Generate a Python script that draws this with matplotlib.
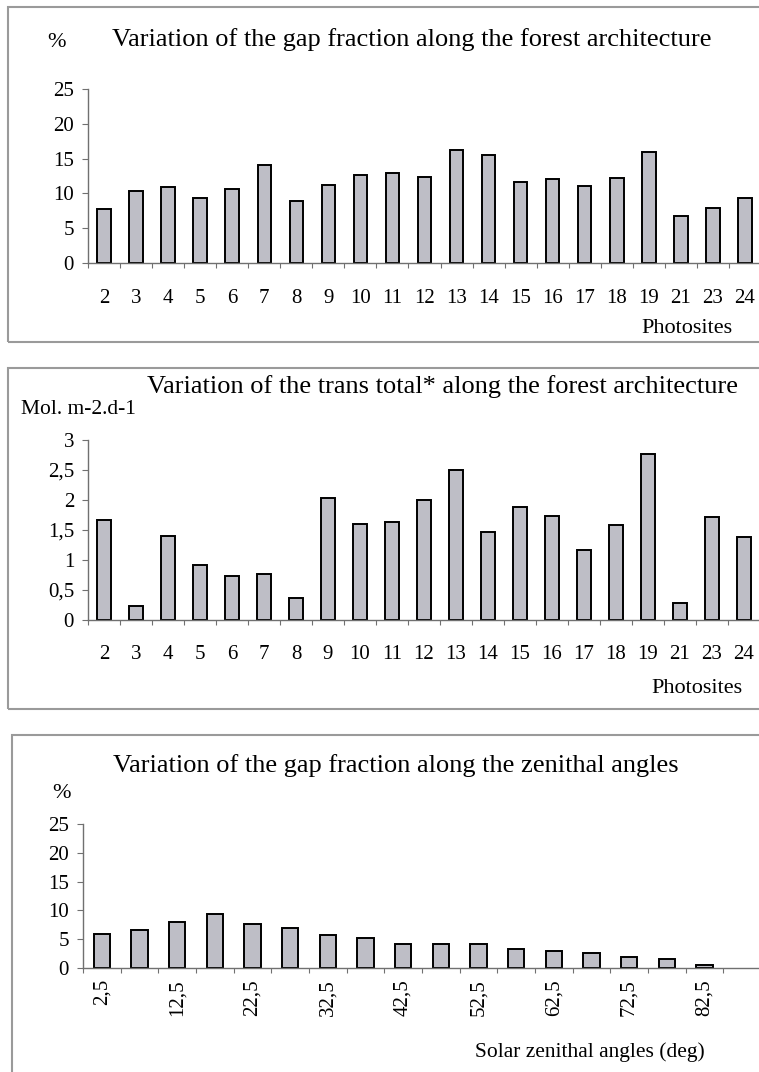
"""
Gap fraction and transmitted radiation bar charts (three framed panels).
"""

import numpy as np
import matplotlib.pyplot as plt
from matplotlib.patches import Rectangle

plt.rcParams['font.family'] = ['Liberation Serif', 'DejaVu Serif']

W, H = 759, 1072

# Panel 1 - gap fraction per photosite (%)
photosites = ['2', '3', '4', '5', '6', '7', '8', '9', '10', '11', '12', '13',
              '14', '15', '16', '17', '18', '19', '21', '23', '24']
gap_fraction = [7.8, 10.3, 10.9, 9.4, 10.6, 14.1, 8.9, 11.2, 12.6, 12.9, 12.3,
                16.3, 15.5, 11.7, 12.0, 11.1, 12.2, 16.0, 6.7, 7.9, 9.3]

# Panel 2 - trans total per photosite (Mol. m-2.d-1)
trans_total = [1.67, 0.24, 1.40, 0.91, 0.74, 0.77, 0.37, 2.03, 1.60, 1.63, 2.00,
               2.50, 1.46, 1.89, 1.73, 1.16, 1.59, 2.76, 0.29, 1.72, 1.39]

# Panel 3 - gap fraction per solar zenithal angle class (%)
angle_classes = ['2,5', '7,5', '12,5', '17,5', '22,5', '27,5', '32,5', '37,5',
                 '42,5', '47,5', '52,5', '57,5', '62,5', '67,5', '72,5', '77,5',
                 '82,5', '87,5']
angle_gap = [5.9, 6.6, 8.0, 9.4, 7.6, 6.9, 5.8, 5.2, 4.2, 4.2, 4.1, 3.3, 2.9,
             2.65, 1.85, 1.55, 0.5]

BAR_COLOR = '#bebec6'
AXIS_COLOR = '#707070'
FRAME_COLOR = '#9a9a9a'
TITLE_SIZE = 19
TICK_SIZE = 15


def px_axes(fig, left, right, top, bottom):
    """Add axes from pixel coordinates (origin top-left)."""
    return fig.add_axes([left / W, 1 - bottom / H, (right - left) / W, (bottom - top) / H])


def px_text(fig, x, y, s, size, ha='left'):
    """Place text with its baseline at pixel y."""
    fig.text(x / W, 1 - y / H, s, fontsize=size, ha=ha, va='baseline')


def style_axes(ax, n, ymax, yticks, yticklabels, xlabels, label_every=1,
               rotate=False, xpad=18):
    ax.set_xlim(-0.5, n - 0.5)
    ax.set_ylim(0, ymax)
    for side in ['top', 'right']:
        ax.spines[side].set_visible(False)
    for side in ['left', 'bottom']:
        ax.spines[side].set_color(AXIS_COLOR)
        ax.spines[side].set_linewidth(1.0)
    ax.set_yticks(yticks)
    ax.set_yticklabels(yticklabels, fontsize=TICK_SIZE)
    ax.tick_params(axis='y', length=4, width=0.8, color=AXIS_COLOR, pad=6)

    centers = np.arange(n)
    ax.set_xticks(centers[::label_every])
    if rotate:
        ax.set_xticklabels(xlabels[::label_every], fontsize=15, rotation=90, va='top')
    else:
        ax.set_xticklabels(xlabels[::label_every], fontsize=TICK_SIZE)
    ax.tick_params(axis='x', which='major', length=0, pad=xpad)
    ax.set_xticks(np.arange(n + 1) - 0.5, minor=True)
    ax.tick_params(axis='x', which='minor', length=3.5, width=0.8, color=AXIS_COLOR)
    ax.patch.set_alpha(0)


fig = plt.figure(figsize=(W / 100, H / 100), dpi=100)
fig.patch.set_facecolor('white')

# panel frames
for x0, y0, y1 in [(8, 7, 342), (8, 368, 709), (12, 735, 1090)]:
    fig.patches.append(Rectangle((x0 / W, 1 - y1 / H), (W + 20 - x0) / W, (y1 - y0) / H,
                                 transform=fig.transFigure, fill=False,
                                 edgecolor=FRAME_COLOR, linewidth=1.5))

# Panel 1
ax1 = px_axes(fig, 88, 761, 89, 263)
x = np.arange(len(photosites))
ax1.bar(x, gap_fraction, width=0.42, color=BAR_COLOR, edgecolor='black', linewidth=1.4)
style_axes(ax1, len(photosites), 25, [0, 5, 10, 15, 20, 25],
           ['0', '5', '10', '15', '20', '25'], photosites, xpad=19)
px_text(fig, 47, 47, '%', 16)
px_text(fig, 112, 46, 'Variation of the gap fraction along the forest architecture', TITLE_SIZE)
px_text(fig, 732, 333, 'Photosites', 16, ha='right')

# Panel 2
ax2 = px_axes(fig, 88, 760, 440, 620)
ax2.bar(x, trans_total, width=0.42, color=BAR_COLOR, edgecolor='black', linewidth=1.4)
style_axes(ax2, len(photosites), 3, [0, 0.5, 1, 1.5, 2, 2.5, 3],
           ['0', '0,5', '1', '1,5', '2', '2,5', '3'], photosites, xpad=18)
px_text(fig, 21, 414, 'Mol. m-2.d-1', 15.5)
px_text(fig, 147, 393, 'Variation of the trans total* along the forest architecture', TITLE_SIZE)
px_text(fig, 743, 693, 'Photosites', 16, ha='right')

# Panel 3
ax3 = px_axes(fig, 83, 761, 824, 968)
xa = np.arange(len(angle_gap))
ax3.bar(xa, angle_gap, width=0.44, color=BAR_COLOR, edgecolor='black', linewidth=1.4)
style_axes(ax3, len(angle_classes), 25, [0, 5, 10, 15, 20, 25],
           ['0', '5', '10', '15', '20', '25'], angle_classes, label_every=2,
           rotate=True, xpad=8)
px_text(fig, 52, 798, '%', 16)
px_text(fig, 113, 772, 'Variation of the gap fraction along the zenithal angles', TITLE_SIZE)
px_text(fig, 705, 1057, 'Solar zenithal angles (deg)', 15.5, ha='right')

fig.savefig('out.png', dpi=100)
plt.close(fig)
